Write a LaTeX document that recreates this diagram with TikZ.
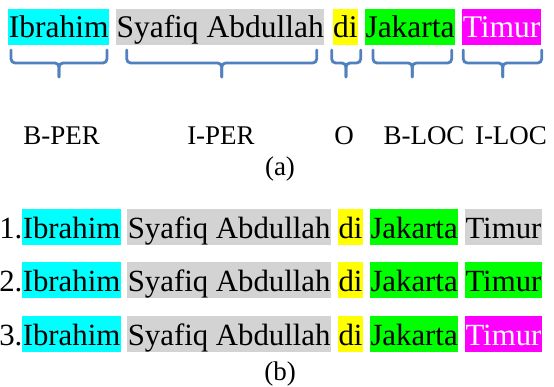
\documentclass[tikz,border=0pt]{standalone}
\usepackage{fontspec}
\setmainfont{Liberation Serif}
\definecolor{cyanbg}{RGB}{0,255,255}
\definecolor{graybg}{RGB}{211,211,211}
\definecolor{yellowbg}{RGB}{255,255,0}
\definecolor{greenbg}{RGB}{0,255,0}
\definecolor{magentabg}{RGB}{255,0,255}
\definecolor{bracecol}{RGB}{80,128,190}
\begin{document}
\begin{tikzpicture}[x=1pt,y=-1pt,
  word/.style={inner xsep=0.5pt, inner ysep=0pt, text height=28.5pt, text depth=7.8pt,
    anchor=base west, font=\fontsize{31.5}{36}\selectfont},
  wordb/.style={word, font=\fontsize{30.8}{36}\selectfont, text height=29pt, text depth=6.5pt},
  per/.style={fill=cyanbg},
  iper/.style={fill=graybg},
  oo/.style={fill=yellowbg},
  loc/.style={fill=greenbg},
  iloc/.style={fill=magentabg, text=white},
  tag/.style={anchor=base, inner sep=0pt, font=\fontsize{27}{30}\selectfont},
  num/.style={anchor=base east, inner sep=0pt, font=\fontsize{30.8}{36}\selectfont},
  captext/.style={anchor=base, inner sep=0pt, font=\fontsize{27}{30}\selectfont},
  bracestyle/.style={draw=bracecol, line width=2.8pt, rounded corners=4pt, line cap=round}
]
\useasboundingbox (0,0) rectangle (554,387);

% (a) top row
\node[word, per]  (a1) at (8.1,37.7) {Ibrahim};
\node[word, iper] (a2) at (115.8,37.7) {Syafiq Abdullah};
\node[word, oo]   (a3) at (332.5,37.7) {di};
\node[word, loc]  (a4) at (364.8,37.7) {Jakarta};
\node[word, iloc] (a5) at (462.1,37.7) {Timur};

% braces
\foreach \xl/\xc/\xr in {11/59/107, 126.7/221.7/316.7, 331.7/346/360.7, 373/412.3/451.7, 463.3/502.7/541.7}{
  \draw[bracestyle] (\xl,50) -- (\xl,63) -- (\xc,63) -- (\xc,77);
  \draw[bracestyle] (\xc,77) -- (\xc,63) -- (\xr,63) -- (\xr,50);
}

% tags
\node[tag] (t1) at (61.7,145) {B-PER};
\node[tag] (t2) at (221,145) {I-PER};
\node[tag] (t3) at (344,145) {O};
\node[tag] (t4) at (424,145) {B-LOC};
\node[tag] (t5) at (511,145) {I-LOC};
\node[captext] (capa) at (280,176) {(a)};

% (b) rows
\foreach \r/\y/\laststy in {1/238.5/iper, 2/291.5/loc, 3/345/iloc}{
  \node[num] (n\r) at (22.6,\y) {\r.};
  \node[wordb, per]  (b\r1) at (22.1,\y) {Ibrahim};
  \node[wordb, iper] (b\r2) at (127.1,\y) {Syafiq Abdullah};
  \node[wordb, oo]   (b\r3) at (337.8,\y) {di};
  \node[wordb, loc]  (b\r4) at (369.8,\y) {Jakarta};
  \node[wordb, \laststy] (b\r5) at (464.8,\y) {Timur};
}
\node[captext] (capb) at (280,380) {(b)};
\end{tikzpicture}
\end{document}
